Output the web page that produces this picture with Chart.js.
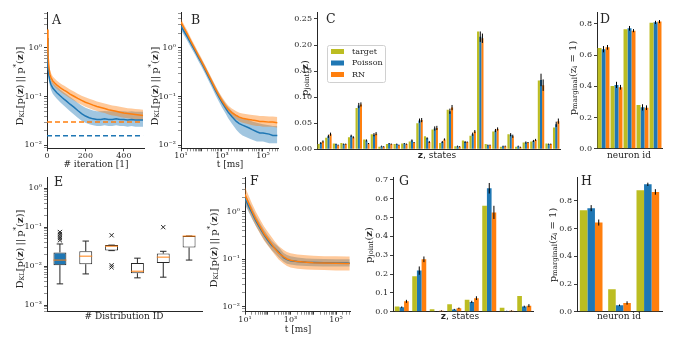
<!DOCTYPE html>
<html>
<head>
<meta charset="utf-8">
<title>Sampling accuracy figure</title>
<script src="https://cdn.jsdelivr.net/npm/chart.js@4.4.1/dist/chart.umd.min.js"></script>
<style>
	html, body { margin: 0; padding: 0; background: #fff; }
	#fig { position: relative; width: 675px; height: 339px; overflow: hidden; }
	#fig canvas { position: absolute; left: 0; top: 0; width: 675px; height: 339px; }
</style>
</head>
<body>
<div id="fig">
	<canvas id="pA" width="675" height="339"></canvas>
	<canvas id="pB" width="675" height="339"></canvas>
	<canvas id="pC" width="675" height="339"></canvas>
	<canvas id="pD" width="675" height="339"></canvas>
	<canvas id="pE" width="675" height="339"></canvas>
	<canvas id="pF" width="675" height="339"></canvas>
	<canvas id="pG" width="675" height="339"></canvas>
	<canvas id="pH" width="675" height="339"></canvas>
</div>
<script>
/* global Chart */
( function () {
	'use strict';

	// ----------------------------------------------------------------
	// Data
	// ----------------------------------------------------------------

	// A: KL divergence vs. training iteration
	var aIter      = [ 0, 5, 10, 15, 20, 30, 40, 50, 60, 70, 80, 90, 100, 120, 140, 160, 180, 200, 220, 240, 260, 280, 300, 320, 340, 360, 380, 400, 420, 440, 460, 480, 500 ];
	var aOrange    = [ 2.4, 0.75, 0.40, 0.29, 0.25, 0.21, 0.19, 0.175, 0.163, 0.152, 0.143, 0.135, 0.128, 0.113, 0.102, 0.092, 0.084, 0.077, 0.072, 0.067, 0.063, 0.060, 0.057, 0.054, 0.052, 0.050, 0.048, 0.046, 0.045, 0.044, 0.043, 0.042, 0.041 ];
	var aOrangeLo  = [ 1.9, 0.62, 0.33, 0.24, 0.21, 0.175, 0.158, 0.145, 0.135, 0.126, 0.118, 0.111, 0.105, 0.093, 0.083, 0.075, 0.068, 0.062, 0.058, 0.054, 0.051, 0.048, 0.046, 0.043, 0.041, 0.040, 0.038, 0.037, 0.036, 0.035, 0.034, 0.033, 0.033 ];
	var aOrangeHi  = [ 3.0, 0.92, 0.50, 0.36, 0.31, 0.26, 0.235, 0.215, 0.20, 0.187, 0.176, 0.167, 0.158, 0.140, 0.127, 0.115, 0.105, 0.097, 0.091, 0.085, 0.080, 0.076, 0.072, 0.069, 0.066, 0.064, 0.062, 0.060, 0.058, 0.057, 0.056, 0.055, 0.054 ];
	var aBlue      = [ 1.6, 0.45, 0.27, 0.21, 0.18, 0.15, 0.135, 0.122, 0.112, 0.103, 0.095, 0.088, 0.082, 0.070, 0.061, 0.052, 0.045, 0.040, 0.037, 0.035, 0.034, 0.034, 0.035, 0.034, 0.034, 0.035, 0.034, 0.034, 0.033, 0.034, 0.033, 0.033, 0.033 ];
	var aBlueLo    = [ 1.2, 0.35, 0.21, 0.165, 0.14, 0.115, 0.102, 0.092, 0.083, 0.076, 0.070, 0.064, 0.059, 0.050, 0.043, 0.037, 0.032, 0.029, 0.027, 0.026, 0.025, 0.025, 0.026, 0.025, 0.025, 0.026, 0.025, 0.025, 0.024, 0.025, 0.024, 0.024, 0.024 ];
	var aBlueHi    = [ 2.1, 0.58, 0.35, 0.27, 0.23, 0.195, 0.178, 0.162, 0.150, 0.139, 0.129, 0.120, 0.113, 0.098, 0.086, 0.075, 0.066, 0.059, 0.055, 0.052, 0.050, 0.050, 0.051, 0.050, 0.050, 0.051, 0.050, 0.050, 0.049, 0.050, 0.049, 0.049, 0.049 ];
	var aFloorOrange = 0.030;
	var aFloorBlue   = 0.0157;
	var aXTicks      = [ 0, 200, 400 ];

	// B: KL divergence vs. sampling time
	var bTime      = [ 10, 15, 20, 30, 50, 70, 100, 150, 200, 300, 500, 700, 1000, 1500, 2000, 3000, 5000, 7000, 10000, 20000, 30000, 50000, 70000, 100000, 200000, 300000, 500000 ];
	var bOrange    = [ 3.4, 2.45, 1.95, 1.38, 0.92, 0.70, 0.53, 0.38, 0.30, 0.215, 0.14, 0.107, 0.083, 0.064, 0.055, 0.047, 0.041, 0.038, 0.036, 0.034, 0.033, 0.032, 0.031, 0.031, 0.030, 0.030, 0.029 ];
	var bOrangeLo  = [ 2.9, 2.1, 1.65, 1.18, 0.79, 0.60, 0.455, 0.33, 0.26, 0.185, 0.12, 0.092, 0.071, 0.054, 0.046, 0.039, 0.034, 0.031, 0.029, 0.027, 0.026, 0.025, 0.025, 0.024, 0.024, 0.024, 0.023 ];
	var bOrangeHi  = [ 4.0, 2.85, 2.3, 1.62, 1.07, 0.82, 0.62, 0.44, 0.35, 0.25, 0.163, 0.125, 0.098, 0.077, 0.066, 0.057, 0.050, 0.047, 0.045, 0.043, 0.042, 0.041, 0.040, 0.040, 0.039, 0.039, 0.038 ];
	var bBlue      = [ 2.8, 2.1, 1.7, 1.25, 0.85, 0.65, 0.50, 0.36, 0.28, 0.20, 0.13, 0.10, 0.076, 0.058, 0.048, 0.039, 0.031, 0.028, 0.026, 0.023, 0.021, 0.019, 0.018, 0.018, 0.017, 0.016, 0.016 ];
	var bBlueLo    = [ 2.3, 1.75, 1.42, 1.04, 0.71, 0.54, 0.41, 0.295, 0.23, 0.163, 0.105, 0.080, 0.060, 0.045, 0.036, 0.028, 0.021, 0.018, 0.016, 0.014, 0.013, 0.012, 0.012, 0.012, 0.011, 0.011, 0.011 ];
	var bBlueHi    = [ 3.3, 2.5, 2.0, 1.48, 1.0, 0.77, 0.59, 0.43, 0.335, 0.24, 0.157, 0.122, 0.093, 0.072, 0.061, 0.051, 0.042, 0.038, 0.036, 0.033, 0.031, 0.029, 0.028, 0.027, 0.026, 0.025, 0.025 ];

	// C: joint distribution over the 32 states of 5 neurons
	var cTarget    = [ 0.010, 0.022, 0.011, 0.012, 0.023, 0.079, 0.019, 0.029, 0.005, 0.010, 0.010, 0.011, 0.015, 0.050, 0.025, 0.038, 0.012, 0.076, 0.006, 0.017, 0.026, 0.226, 0.010, 0.034, 0.005, 0.029, 0.005, 0.013, 0.015, 0.132, 0.011, 0.042 ];
	var cPoisson   = [ 0.012, 0.025, 0.010, 0.010, 0.026, 0.084, 0.017, 0.028, 0.006, 0.011, 0.010, 0.011, 0.017, 0.055, 0.021, 0.040, 0.014, 0.073, 0.006, 0.014, 0.029, 0.216, 0.008, 0.036, 0.006, 0.028, 0.006, 0.013, 0.016, 0.133, 0.010, 0.048 ];
	var cRN        = [ 0.015, 0.029, 0.008, 0.010, 0.023, 0.086, 0.011, 0.030, 0.005, 0.010, 0.008, 0.010, 0.013, 0.056, 0.014, 0.041, 0.019, 0.080, 0.005, 0.014, 0.034, 0.213, 0.008, 0.039, 0.006, 0.025, 0.004, 0.013, 0.018, 0.123, 0.010, 0.054 ];
	var cErrPoisson = [ 0.002, 0.003, 0.001, 0.001, 0.002, 0.005, 0.002, 0.003, 0.001, 0.001, 0.001, 0.001, 0.002, 0.004, 0.002, 0.004, 0.002, 0.005, 0.001, 0.002, 0.003, 0.010, 0.001, 0.003, 0.001, 0.003, 0.001, 0.002, 0.002, 0.012, 0.001, 0.005 ];
	var cErrRN      = [ 0.002, 0.003, 0.001, 0.001, 0.002, 0.004, 0.001, 0.003, 0.001, 0.001, 0.001, 0.001, 0.001, 0.004, 0.002, 0.004, 0.002, 0.005, 0.001, 0.001, 0.003, 0.009, 0.001, 0.003, 0.001, 0.003, 0.001, 0.001, 0.002, 0.011, 0.001, 0.005 ];
	var cYTicks    = [ 0, 0.05, 0.10, 0.15, 0.20, 0.25 ];

	// D: marginals of the 5 neurons
	var dNeurons   = [ '1', '2', '3', '4', '5' ];
	var dTarget    = [ 0.645, 0.402, 0.766, 0.280, 0.808 ];
	var dPoisson   = [ 0.638, 0.409, 0.772, 0.265, 0.810 ];
	var dRN        = [ 0.650, 0.394, 0.757, 0.263, 0.815 ];
	var dErrPoisson = [ 0.020, 0.020, 0.015, 0.020, 0.010 ];
	var dErrRN      = [ 0.015, 0.015, 0.010, 0.015, 0.010 ];
	var dYTicks    = [ 0, 0.2, 0.4, 0.6, 0.8 ];

	// E: final KL per target distribution (box plots)
	var eDist      = [ '1', '2', '3', '4', '5', '6' ];
	var eLo        = [ 0.0035, 0.0063, 0.025, 0.0050, 0.0052, 0.0143 ];
	var eQ1        = [ 0.0106, 0.0112, 0.025, 0.0066, 0.0120, 0.030 ];
	var eMed       = [ 0.0143, 0.0180, 0.0325, 0.0074, 0.0170, 0.059 ];
	var eQ3        = [ 0.0225, 0.0240, 0.0346, 0.0120, 0.0210, 0.059 ];
	var eHi        = [ 0.037, 0.044, 0.0346, 0.016, 0.024, 0.059 ];
	var eOutBox    = [ 0, 0, 0, 0, 0, 2, 2, 2, 4 ];
	var eOutVal    = [ 0.046, 0.052, 0.058, 0.066, 0.075, 0.062, 0.0105, 0.0093, 0.100 ];

	// F: KL divergence vs. time for the second network
	var fTime      = [ 10, 15, 20, 30, 50, 70, 100, 150, 200, 300, 500, 700, 1000, 2000, 5000, 10000, 30000, 100000, 300000, 400000 ];
	var fOrange    = [ 2.3, 1.45, 1.05, 0.70, 0.45, 0.34, 0.27, 0.205, 0.170, 0.135, 0.112, 0.101, 0.095, 0.089, 0.086, 0.084, 0.083, 0.082, 0.081, 0.081 ];
	var fOrangeLo  = [ 1.6, 1.0, 0.75, 0.50, 0.32, 0.245, 0.195, 0.150, 0.125, 0.098, 0.080, 0.072, 0.067, 0.063, 0.061, 0.060, 0.059, 0.058, 0.058, 0.058 ];
	var fOrangeHi  = [ 3.3, 2.1, 1.5, 1.0, 0.64, 0.48, 0.38, 0.29, 0.24, 0.19, 0.157, 0.142, 0.134, 0.125, 0.121, 0.118, 0.116, 0.115, 0.114, 0.114 ];
	var fBlue      = [ 1.9, 1.25, 0.95, 0.64, 0.42, 0.32, 0.25, 0.195, 0.172, 0.142, 0.108, 0.098, 0.093, 0.089, 0.086, 0.085, 0.084, 0.083, 0.083, 0.082 ];
	var fBlueLo    = [ 1.4, 0.95, 0.72, 0.50, 0.33, 0.255, 0.20, 0.155, 0.135, 0.110, 0.088, 0.080, 0.077, 0.074, 0.072, 0.071, 0.070, 0.070, 0.070, 0.070 ];
	var fBlueHi    = [ 2.5, 1.65, 1.25, 0.83, 0.54, 0.41, 0.32, 0.245, 0.215, 0.18, 0.135, 0.122, 0.115, 0.108, 0.104, 0.102, 0.101, 0.100, 0.100, 0.100 ];

	// G: joint distribution over the 8 states of 3 neurons
	var gStates    = [ '000', '001', '010', '011', '100', '101', '110', '111' ];
	var gTarget    = [ 0.028, 0.188, 0.013, 0.040, 0.063, 0.562, 0.021, 0.083 ];
	var gPoisson   = [ 0.024, 0.218, 0.002, 0.012, 0.052, 0.655, 0.004, 0.027 ];
	var gRN        = [ 0.055, 0.278, 0.005, 0.018, 0.072, 0.527, 0.005, 0.032 ];
	var gErrPoisson = [ 0.004, 0.022, 0.001, 0.003, 0.006, 0.028, 0.001, 0.005 ];
	var gErrRN      = [ 0.008, 0.015, 0.002, 0.004, 0.010, 0.035, 0.002, 0.008 ];
	var gYTicks    = [ 0, 0.1, 0.2, 0.3, 0.4, 0.5, 0.6, 0.7 ];

	// H: marginals of the 3 neurons
	var hNeurons   = [ '1', '2', '3' ];
	var hTarget    = [ 0.733, 0.163, 0.877 ];
	var hPoisson   = [ 0.748, 0.046, 0.920 ];
	var hRN        = [ 0.644, 0.063, 0.865 ];
	var hErrPoisson = [ 0.022, 0.006, 0.012 ];
	var hErrRN      = [ 0.022, 0.012, 0.020 ];
	var hYTicks    = [ 0, 0.2, 0.4, 0.6, 0.8 ];

	var cStates = cTarget.map( function ( v, i ) { return String( i ); } );

	// ----------------------------------------------------------------
	// Look
	// ----------------------------------------------------------------
	var BLUE   = '#1f77b4';
	var ORANGE = '#ff7f0e';
	var OLIVE  = '#bcbd22';
	var BLUE_BAND   = 'rgba(31,119,180,0.42)';
	var ORANGE_BAND = 'rgba(255,127,14,0.42)';
	var INK   = '#262626';
	var SERIF = '"DejaVu Serif", serif';
	var SANS  = '"DejaVu Sans", sans-serif';
	var W = 675, H = 339, AX_W = 40, AX_H = 20;
	var SUP = { '-': '\u207b', '0': '\u2070', '1': '\u00b9', '2': '\u00b2', '3': '\u00b3', '4': '\u2074', '5': '\u2075', '6': '\u2076', '7': '\u2077', '8': '\u2078', '9': '\u2079' };

	function sup( n ) {
		return String( n ).split( '' ).map( function ( c ) { return SUP[ c ]; } ).join( '' );
	}

	// ----------------------------------------------------------------
	// Axis helpers
	// ----------------------------------------------------------------

	function fixSize( size, vertical ) {
		return function ( scale ) {
			if ( vertical ) { scale.width = size; } else { scale.height = size; }
			scale.paddingLeft = 0;
			scale.paddingRight = 0;
			scale.paddingTop = 0;
			scale.paddingBottom = 0;
		};
	}

	function tickFont() {
		return { family: SERIF, size: 8 };
	}

	function decadeTicks( min, max ) {
		var out = [];
		for ( var e = Math.floor( Math.log10( min ) ); e <= Math.ceil( Math.log10( max ) ); e++ ) {
			for ( var m = 1; m <= 9; m++ ) {
				var v = m * Math.pow( 10, e );
				if ( v >= min && v <= max ) { out.push( { value: v, major: m === 1 } ); }
			}
		}
		return out;
	}

	function logAxis( vertical, min, max, showExp ) {
		return {
			type: 'logarithmic',
			min: min,
			max: max,
			border: { display: true, color: INK, width: 1 },
			grid: {
				display: true, drawOnChartArea: false, drawTicks: true, tickLength: 3, tickColor: INK,
				tickWidth: function ( c ) { return c.tick && c.tick.major ? 0.9 : 0.5; },
			},
			ticks: {
				color: INK, font: tickFont(), padding: vertical ? 2 : 0, autoSkip: false, maxRotation: 0, minRotation: 0,
				callback: function ( v, i, ticks ) {
					if ( ! ticks[ i ].major ) { return ''; }
					var e = Math.round( Math.log10( v ) );
					return showExp( e ) ? '10' + sup( e ) : '';
				},
			},
			afterBuildTicks: function ( scale ) { scale.ticks = decadeTicks( min, max ); },
			afterFit: fixSize( vertical ? AX_W : AX_H, vertical ),
		};
	}

	function linAxis( vertical, min, max, tickValues, digits ) {
		return {
			type: 'linear',
			min: min,
			max: max,
			border: { display: true, color: INK, width: 1 },
			grid: { display: true, drawOnChartArea: false, drawTicks: true, tickLength: 3, tickColor: INK, tickWidth: 0.9 },
			ticks: {
				color: INK, font: tickFont(), padding: vertical ? 2 : 0, autoSkip: false, maxRotation: 0, minRotation: 0,
				callback: function ( v ) { return Number( v ).toFixed( digits ); },
			},
			afterBuildTicks: function ( scale ) {
				scale.ticks = tickValues.map( function ( v ) { return { value: v }; } );
			},
			afterFit: fixSize( vertical ? AX_W : AX_H, vertical ),
		};
	}

	function catAxis() {
		return {
			type: 'category',
			offset: true,
			border: { display: true, color: INK, width: 1 },
			grid: { display: false },
			ticks: { display: false },
			afterFit: fixSize( AX_H, false ),
		};
	}

	// ----------------------------------------------------------------
	// Dataset helpers
	// ----------------------------------------------------------------

	function pts( xs, ys ) {
		return xs.map( function ( x, i ) { return { x: x, y: ys[ i ] }; } );
	}

	function meanLine( xs, ys, color ) {
		return { data: pts( xs, ys ), borderColor: color, borderWidth: 1.5, pointRadius: 0, fill: false, tension: 0 };
	}

	function bandTop( xs, ys, fillColor ) {
		return { data: pts( xs, ys ), borderWidth: 0, borderColor: 'rgba(0,0,0,0)', pointRadius: 0, fill: '+1', backgroundColor: fillColor, tension: 0 };
	}

	function bandBottom( xs, ys ) {
		return { data: pts( xs, ys ), borderWidth: 0, borderColor: 'rgba(0,0,0,0)', pointRadius: 0, fill: false, tension: 0 };
	}

	function floorLine( xs, value, color ) {
		var x0 = xs[ 0 ], x1 = xs[ xs.length - 1 ];
		return {
			data: [ { x: x0, y: value }, { x: x1, y: value } ],
			borderColor: color, borderWidth: 1.5, borderDash: [ 5, 3 ], pointRadius: 0, fill: false,
		};
	}

	function barSet( label, data, color, err ) {
		return { label: label, data: data, backgroundColor: color, borderWidth: 0, err: err };
	}

	// ----------------------------------------------------------------
	// Plugins: error bars, box whiskers, texts
	// ----------------------------------------------------------------

	var errorBars = {
		id: 'errorBars',
		afterDatasetsDraw: function ( chart ) {
			var ctx = chart.ctx, y = chart.scales.y;
			ctx.save();
			ctx.strokeStyle = '#000';
			ctx.lineWidth = 1;
			chart.data.datasets.forEach( function ( ds, di ) {
				if ( ! ds.err ) { return; }
				chart.getDatasetMeta( di ).data.forEach( function ( bar, i ) {
					var v = ds.data[ i ], e = ds.err[ i ];
					ctx.beginPath();
					ctx.moveTo( bar.x, y.getPixelForValue( v - e ) );
					ctx.lineTo( bar.x, y.getPixelForValue( v + e ) );
					ctx.stroke();
				} );
			} );
			ctx.restore();
		},
	};

	var boxWhiskers = {
		id: 'boxWhiskers',
		afterDatasetsDraw: function ( chart ) {
			var ds = chart.data.datasets[ 0 ];
			if ( ! ds.med ) { return; }
			var ctx = chart.ctx, y = chart.scales.y;
			ctx.save();
			chart.getDatasetMeta( 0 ).data.forEach( function ( bar, i ) {
				var half = bar.width / 2, cap = bar.width / 4;
				var yLo = y.getPixelForValue( ds.lo[ i ] ), yQ1 = y.getPixelForValue( eQ1[ i ] );
				var yHi = y.getPixelForValue( ds.hi[ i ] ), yQ3 = y.getPixelForValue( eQ3[ i ] );
				ctx.strokeStyle = INK;
				ctx.lineWidth = 1;
				ctx.beginPath();
				ctx.moveTo( bar.x, yQ1 ); ctx.lineTo( bar.x, yLo );
				ctx.moveTo( bar.x - cap, yLo ); ctx.lineTo( bar.x + cap, yLo );
				ctx.moveTo( bar.x, yQ3 ); ctx.lineTo( bar.x, yHi );
				ctx.moveTo( bar.x - cap, yHi ); ctx.lineTo( bar.x + cap, yHi );
				ctx.stroke();
				var yM = y.getPixelForValue( ds.med[ i ] );
				ctx.strokeStyle = ORANGE;
				ctx.beginPath();
				ctx.moveTo( bar.x - half, yM ); ctx.lineTo( bar.x + half, yM );
				ctx.stroke();
			} );
			ctx.restore();
		},
	};

	function fontOf( p, it ) {
		return ( p.bold ? 'bold ' : '' ) + ( p.size || it.size || 9 ) + 'px ' + ( p.family || it.family || SERIF );
	}

	function drawRich( ctx, it ) {
		var parts = typeof it.parts === 'string' ? [ { s: it.parts } ] : it.parts;
		var widths = [], total = 0;
		ctx.save();
		ctx.translate( it.x, it.y );
		if ( it.rot ) { ctx.rotate( -Math.PI / 2 ); }
		ctx.fillStyle = INK;
		ctx.textBaseline = 'middle';
		ctx.textAlign = 'left';
		parts.forEach( function ( p ) {
			ctx.font = fontOf( p, it );
			var w = ctx.measureText( p.s ).width;
			widths.push( w );
			total += w;
		} );
		var cx = it.align === 'left' ? 0 : -total / 2;
		parts.forEach( function ( p, i ) {
			ctx.font = fontOf( p, it );
			ctx.fillText( p.s, cx, p.dy || 0 );
			cx += widths[ i ];
		} );
		ctx.restore();
	}

	function drawLegend( ctx, chart, it ) {
		ctx.save();
		ctx.fillStyle = 'rgba(255,255,255,0.85)';
		ctx.strokeStyle = '#d0d0d0';
		ctx.lineWidth = 1;
		ctx.beginPath();
		ctx.roundRect( it.x + 0.5, it.y + 0.5, it.w, it.h, 2 );
		ctx.fill();
		ctx.stroke();
		chart.data.datasets.forEach( function ( d, i ) {
			var ry = it.y + it.row0 + i * it.rowH;
			ctx.fillStyle = d.backgroundColor;
			ctx.fillRect( it.x + 4, ry - 2.5, 13, 5 );
			ctx.fillStyle = INK;
			ctx.font = '8px ' + SERIF;
			ctx.textBaseline = 'middle';
			ctx.textAlign = 'left';
			ctx.fillText( d.label, it.x + 25, ry );
		} );
		ctx.restore();
	}

	function textLayer( items ) {
		return {
			id: 'texts',
			afterDraw: function ( chart ) {
				items.forEach( function ( it ) {
					if ( it.legend ) { drawLegend( chart.ctx, chart, it ); } else { drawRich( chart.ctx, it ); }
				} );
			},
		};
	}

	// Label pieces
	var DKL = [
		{ s: 'D' }, { s: 'KL', size: 6.5, dy: 2.5 }, { s: '[p(' }, { s: 'z', bold: true }, { s: ')\u2009||\u2009p' },
		{ s: '*', size: 7, dy: -3.5 }, { s: '(' }, { s: 'z', bold: true }, { s: ')]' },
	];
	var PJOINT = [ { s: 'p' }, { s: 'joint', size: 7, dy: 2.5 }, { s: '(' }, { s: 'z', bold: true }, { s: ')' } ];
	var PMARG = [ { s: 'p' }, { s: 'marginal', size: 7, dy: 2.5 }, { s: '(z' }, { s: 'i', size: 7, dy: 2.5 }, { s: ' = 1)' } ];
	var STATES = [ { s: 'z', bold: true, family: SANS }, { s: ', states', family: SANS } ];

	function letter( x, y, s ) {
		return { x: x, y: y, parts: s, size: 12.5, align: 'left' };
	}

	// ----------------------------------------------------------------
	// Chart factory: every panel gets a full-size transparent canvas
	// whose chart area is pinned to the panel's rectangle.
	// ----------------------------------------------------------------

	function panel( id, area, config, texts ) {
		var opts = config.options || {};
		opts.responsive = false;
		opts.animation = false;
		opts.devicePixelRatio = 1;
		opts.events = [];
		opts.layout = { padding: { left: area[ 0 ] - AX_W, top: area[ 1 ], right: W - area[ 2 ], bottom: H - area[ 3 ] - AX_H } };
		opts.plugins = { legend: { display: false }, tooltip: { enabled: false } };
		config.options = opts;
		config.plugins = [ errorBars, boxWhiskers, textLayer( texts || [] ) ];
		return new Chart( document.getElementById( id ), config );
	}

	// ----------------------------------------------------------------
	// A
	// ----------------------------------------------------------------
	panel( 'pA', [ 47, 12.7, 144, 148.3 ], {
		type: 'line',
		data: { datasets: [
			meanLine( aIter, aOrange, ORANGE ),
			meanLine( aIter, aBlue, BLUE ),
			floorLine( aIter, aFloorOrange, ORANGE ),
			floorLine( aIter, aFloorBlue, BLUE ),
			bandTop( aIter, aOrangeHi, ORANGE_BAND ),
			bandBottom( aIter, aOrangeLo ),
			bandTop( aIter, aBlueHi, BLUE_BAND ),
			bandBottom( aIter, aBlueLo ),
		] },
		options: {
			scales: {
				x: linAxis( false, 0, 505, aXTicks, 0 ),
				y: logAxis( true, 0.0087, 5.3, function () { return true; } ),
			},
		},
	}, [
		letter( 52, 21, 'A' ),
		{ x: 20, y: 86, rot: true, parts: DKL, size: 10 },
		{ x: 96, y: 165, parts: '# iteration [1]' },
	] );

	// ----------------------------------------------------------------
	// B
	// ----------------------------------------------------------------
	panel( 'pB', [ 181, 12.7, 278, 148.3 ], {
		type: 'line',
		data: { datasets: [
			meanLine( bTime, bOrange, ORANGE ),
			meanLine( bTime, bBlue, BLUE ),
			bandTop( bTime, bOrangeHi, ORANGE_BAND ),
			bandBottom( bTime, bOrangeLo ),
			bandTop( bTime, bBlueHi, BLUE_BAND ),
			bandBottom( bTime, bBlueLo ),
		] },
		options: {
			scales: {
				x: logAxis( false, 10, 540000, function ( e ) { return e % 2 === 1; } ),
				y: logAxis( true, 0.0087, 5.3, function () { return true; } ),
			},
		},
	}, [
		letter( 191, 21, 'B' ),
		{ x: 155, y: 86, rot: true, parts: DKL, size: 10 },
		{ x: 230, y: 165, parts: 't [ms]' },
	] );

	// ----------------------------------------------------------------
	// C
	// ----------------------------------------------------------------
	panel( 'pC', [ 317, 12.7, 560, 149.3 ], {
		type: 'bar',
		data: { labels: cStates, datasets: [
			barSet( 'target', cTarget, OLIVE ),
			barSet( 'Poisson', cPoisson, BLUE, cErrPoisson ),
			barSet( 'RN', cRN, ORANGE, cErrRN ),
		] },
		options: {
			datasets: { bar: { categoryPercentage: 0.85, barPercentage: 1 } },
			scales: { x: catAxis(), y: linAxis( true, 0, 0.262, cYTicks, 2 ) },
		},
	}, [
		letter( 326, 20, 'C' ),
		{ x: 305, y: 78, rot: true, parts: PJOINT, size: 10 },
		{ x: 437, y: 156, parts: STATES },
		{ legend: true, x: 327, y: 45, w: 58, h: 37, row0: 6.5, rowH: 11.5 },
	] );

	// ----------------------------------------------------------------
	// D
	// ----------------------------------------------------------------
	panel( 'pD', [ 597, 12.7, 662, 148.7 ], {
		type: 'bar',
		data: { labels: dNeurons, datasets: [
			barSet( 'target', dTarget, OLIVE ),
			barSet( 'Poisson', dPoisson, BLUE, dErrPoisson ),
			barSet( 'RN', dRN, ORANGE, dErrRN ),
		] },
		options: {
			datasets: { bar: { categoryPercentage: 0.92, barPercentage: 1 } },
			scales: { x: catAxis(), y: linAxis( true, 0, 0.872, dYTicks, 1 ) },
		},
	}, [
		letter( 600, 20, 'D' ),
		{ x: 573, y: 78, rot: true, parts: PMARG, size: 10 },
		{ x: 629, y: 156, parts: 'neuron id' },
	] );

	// ----------------------------------------------------------------
	// E
	// ----------------------------------------------------------------
	panel( 'pE', [ 47, 177.7, 202, 311.7 ], {
		type: 'bar',
		data: { labels: eDist, datasets: [
			{
				type: 'bar',
				data: eQ1.map( function ( q, i ) { return [ q, eQ3[ i ] ]; } ),
				backgroundColor: [ BLUE, '#ffffff', '#ffffff', '#ffffff', '#ffffff', '#ffffff' ],
				borderColor: INK, borderWidth: 1, borderSkipped: false,
				barPercentage: 0.5, categoryPercentage: 1,
				med: eMed, lo: eLo, hi: eHi,
			},
			{
				type: 'line',
				data: eOutBox.map( function ( b, i ) { return { x: eDist[ b ], y: eOutVal[ i ] }; } ),
				showLine: false, pointStyle: 'crossRot', pointRadius: 3, borderColor: INK, borderWidth: 1,
			},
		] },
		options: {
			scales: { x: catAxis(), y: logAxis( true, 0.000676, 1.86, function () { return true; } ) },
		},
	}, [
		letter( 54, 183, 'E' ),
		{ x: 20, y: 249, rot: true, parts: DKL, size: 10 },
		{ x: 124, y: 317, parts: '# Distribution ID' },
	] );

	// ----------------------------------------------------------------
	// F
	// ----------------------------------------------------------------
	panel( 'pF', [ 245, 177.7, 350, 311.7 ], {
		type: 'line',
		data: { datasets: [
			meanLine( fTime, fOrange, ORANGE ),
			meanLine( fTime, fBlue, BLUE ),
			bandTop( fTime, fOrangeHi, ORANGE_BAND ),
			bandBottom( fTime, fOrangeLo ),
			bandTop( fTime, fBlueHi, BLUE_BAND ),
			bandBottom( fTime, fBlueLo ),
		] },
		options: {
			scales: {
				x: logAxis( false, 10, 410000, function ( e ) { return e % 2 === 1; } ),
				y: logAxis( true, 0.00785, 5.2, function () { return true; } ),
			},
		},
	}, [
		letter( 250, 182, 'F' ),
		{ x: 214, y: 248, rot: true, parts: DKL, size: 10 },
		{ x: 298, y: 330, parts: 't [ms]' },
	] );

	// ----------------------------------------------------------------
	// G
	// ----------------------------------------------------------------
	panel( 'pG', [ 393, 177.7, 533, 311.7 ], {
		type: 'bar',
		data: { labels: gStates, datasets: [
			barSet( 'target', gTarget, OLIVE ),
			barSet( 'Poisson', gPoisson, BLUE, gErrPoisson ),
			barSet( 'RN', gRN, ORANGE, gErrRN ),
		] },
		options: {
			datasets: { bar: { categoryPercentage: 0.8, barPercentage: 1 } },
			scales: { x: catAxis(), y: linAxis( true, 0, 0.711, gYTicks, 1 ) },
		},
	}, [
		letter( 399, 182, 'G' ),
		{ x: 369, y: 245, rot: true, parts: PJOINT, size: 10 },
		{ x: 460, y: 317, parts: STATES },
	] );

	// ----------------------------------------------------------------
	// H
	// ----------------------------------------------------------------
	panel( 'pH', [ 577, 177, 662, 311.7 ], {
		type: 'bar',
		data: { labels: hNeurons, datasets: [
			barSet( 'target', hTarget, OLIVE ),
			barSet( 'Poisson', hPoisson, BLUE, hErrPoisson ),
			barSet( 'RN', hRN, ORANGE, hErrRN ),
		] },
		options: {
			datasets: { bar: { categoryPercentage: 0.8, barPercentage: 1 } },
			scales: { x: catAxis(), y: linAxis( true, 0, 0.973, hYTicks, 1 ) },
		},
	}, [
		letter( 581, 182, 'H' ),
		{ x: 553, y: 245, rot: true, parts: PMARG, size: 10 },
		{ x: 619, y: 317, parts: 'neuron id' },
	] );

}() );
</script>
</body>
</html>
